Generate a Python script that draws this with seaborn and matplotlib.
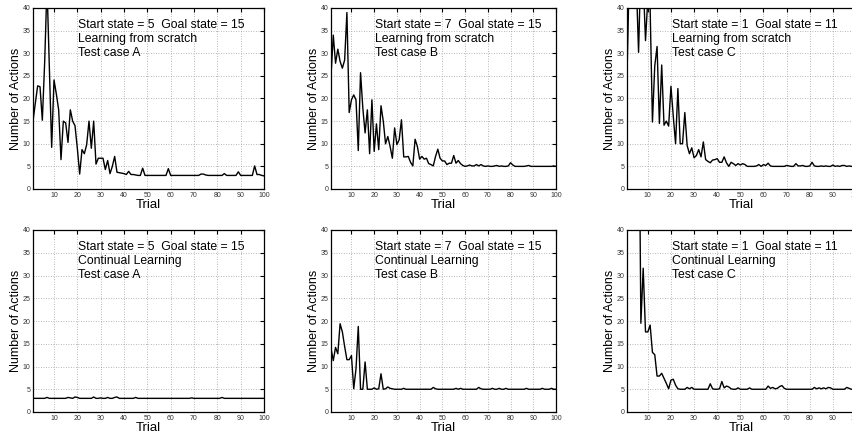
import matplotlib
matplotlib.use("Agg")
import matplotlib.pyplot as plt
import pandas as pd
import seaborn as sns

sns.set_style("white")
plt.rcParams["font.family"] = ["Liberation Sans", "DejaVu Sans"]
plt.rcParams["text.color"] = "black"
plt.rcParams["axes.labelcolor"] = "black"

# Trial numbers
trials = list(range(1, 101))

# Number of actions per trial, learning from scratch
scratch_a = [
    15, 19, 22.8, 22.6, 15.2, 28, 45, 27, 9.2, 24.1,
    21, 17.5, 6.5, 15, 14.6, 10.3, 17.5, 15, 14, 9,
    3.3, 8.7, 7.8, 9.8, 15, 9, 15, 5.5, 6.8, 6.8,
    6.8, 4.3, 6.3, 3.4, 5, 7.2, 3.7, 3.6, 3.5, 3.4,
    3.2, 3.9, 3.2, 3.2, 3.1, 3, 3, 4.6, 3, 3,
    3, 3, 3, 3, 3, 3, 3, 3, 4.5, 3,
    3, 3, 3, 3, 3, 3, 3, 3, 3, 3,
    3, 3, 3.3, 3.3, 3.1, 3, 3, 3, 3, 3,
    3, 3, 3.4, 3, 3, 3, 3, 3, 3.8, 3,
    3, 3, 3, 3, 3, 5.1, 3.2, 3.2, 3, 2.9,
]
scratch_b = [
    25, 34, 27.8, 30.9, 28.2, 26.7, 28.5, 39, 16.9, 19.7,
    20.8, 19.7, 8.5, 25.7, 17.9, 12.4, 17.5, 7.8, 19.7, 8.3,
    14.4, 8.7, 18.4, 15, 10, 11.6, 9.4, 6.8, 13.5, 9.8,
    10.9, 15.3, 7.1, 7.1, 7.2, 5.9, 5.1, 11, 9.4, 6.6,
    7.2, 6.6, 6.8, 5.6, 5.4, 5.1, 7.2, 8.8, 6.8, 6.2,
    6.2, 5.4, 5.7, 5.7, 7.4, 5.7, 6.3, 5.6, 5.2, 5,
    5.1, 5.3, 5.1, 5.1, 5.4, 5.1, 5.4, 5.1, 5, 5.1,
    5, 5, 5.1, 5.2, 5, 5.1, 5, 5, 5.1, 5.8,
    5.3, 5, 5, 5, 5, 5, 5.1, 5.2, 5, 5,
    5, 5, 5, 5, 5, 5, 5, 5, 5.1, 5,
]
scratch_c = [
    25, 48, 55, 50, 46, 30.2, 50, 46, 32.8, 42,
    40, 14.8, 27.2, 31.5, 14.5, 27.4, 14.1, 15, 13.9, 22.7,
    16.1, 10, 22.2, 10, 10, 16.9, 9.6, 7.8, 9.1, 6.9,
    7.4, 8.7, 7.1, 10.4, 6.5, 6.1, 5.8, 6.4, 6.5, 6.7,
    5.9, 5.9, 7.1, 5.8, 5, 5.9, 5.6, 5.2, 5.6, 5.3,
    5.6, 5.4, 5, 5, 5, 5, 5.1, 5.4, 5, 5.4,
    5.2, 5.7, 5.1, 5, 5, 5, 5, 5, 5, 5.2,
    5.1, 5, 5, 5.6, 5.1, 5.1, 5.2, 5, 5, 5.1,
    5.9, 5.1, 5, 5, 5.1, 5, 5.1, 5, 5, 5.3,
    5, 5.1, 5, 5.2, 5.2, 5, 5.1, 5, 5, 5,
]

# Number of actions per trial, continual learning
continual_a = [
    3, 3, 3, 3, 3, 3, 3.2, 3, 3, 3,
    3, 3, 3, 3, 3, 3.2, 3.1, 3, 3.3, 3.2,
    3, 3, 3, 3, 3, 3, 3.3, 3, 3, 3.1,
    3, 3, 3.2, 3, 3, 3.2, 3.3, 3, 3, 3,
    3, 3, 3, 3, 3.2, 3, 3, 3, 3, 3,
    3, 3, 3, 3, 3, 3, 3, 3, 3, 3,
    3, 3, 3, 3, 3, 3, 3, 3, 3.1, 3,
    3, 3, 3, 3, 3, 3, 3, 3, 3, 3,
    3, 3.2, 3, 3, 3, 3, 3, 3, 3, 3,
    3, 3, 3, 3, 3, 3, 3, 3, 3, 3,
]
continual_b = [
    14, 11.3, 14.2, 12.8, 19.4, 17.6, 14.4, 11.5, 11.5, 12.4,
    5.1, 9.5, 18.8, 5, 5, 11, 5, 5, 5, 5.3,
    5, 5.1, 8.4, 5, 5.1, 5.5, 5.2, 5.1, 5, 5,
    5, 5, 5.2, 5, 5, 5, 5, 5, 5, 5,
    5, 5, 5, 5, 5, 5.4, 5.1, 5, 5, 5,
    5, 5, 5, 5, 5, 5.2, 5, 5.2, 5, 5,
    5, 5, 5, 5, 5, 5.4, 5.1, 5, 5, 5,
    5, 5.2, 5, 5, 5.2, 5, 5, 5.2, 5, 5,
    5, 5, 5, 5, 5, 5, 5.2, 5, 5, 5,
    5, 5, 5, 5.2, 5, 5, 5, 5.2, 5, 5,
]
continual_c = [
    50, 55, 48, 52, 46, 80, 19.5, 31.6, 17.6, 17.6,
    19.1, 13.1, 12.6, 7.9, 7.9, 8.5, 7.4, 6.3, 5.1, 7,
    7.2, 5.9, 5.1, 5, 5, 5, 5.4, 5.1, 5.4, 5,
    5, 5, 5, 5, 5, 5, 6.2, 5.1, 5, 5,
    5.1, 6.7, 5.3, 5.7, 5.5, 5.1, 5, 5, 5.3, 5,
    5, 5, 5, 5.3, 5, 5, 5, 5, 5, 5,
    5, 5.7, 5.2, 5.4, 5.1, 5.2, 5.6, 5.8, 5.2, 5,
    5, 5, 5, 5, 5, 5, 5, 5, 5, 5,
    5, 5.4, 5.1, 5.3, 5.1, 5.3, 5.1, 5.4, 5.3, 5,
    5, 5, 5, 5, 5, 5.4, 5.2, 5, 5, 5,
]

panels = [
    (scratch_a, "Start state = 5  Goal state = 15", "Learning from scratch", "Test case A"),
    (scratch_b, "Start state = 7  Goal state = 15", "Learning from scratch", "Test case B"),
    (scratch_c, "Start state = 1  Goal state = 11", "Learning from scratch", "Test case C"),
    (continual_a, "Start state = 5  Goal state = 15", "Continual Learning", "Test case A"),
    (continual_b, "Start state = 7  Goal state = 15", "Continual Learning", "Test case B"),
    (continual_c, "Start state = 1  Goal state = 11", "Continual Learning", "Test case C"),
]

W, H = 852, 433
# axes boxes in pixels (left, top, right, bottom)
boxes = [
    (33, 8, 264, 189), (331, 8, 556, 189), (627, 8, 856, 189),
    (33, 230, 264, 412), (331, 230, 556, 412), (627, 230, 856, 412),
]

fig = plt.figure(figsize=(W / 100, H / 100), dpi=100)

for (vals, l1, l2, l3), (x0, y0, x1, y1) in zip(panels, boxes):
    ax = fig.add_axes([x0 / W, 1 - y1 / H, (x1 - x0) / W, (y1 - y0) / H])
    df = pd.DataFrame({"trial": trials, "actions": vals})
    sns.lineplot(data=df, x="trial", y="actions", ax=ax, color="black", linewidth=1.0)
    ax.set_xlim(1, 100)
    ax.set_ylim(0, 40)
    ax.set_xticks(range(10, 101, 10))
    ax.set_yticks(range(0, 41, 5))
    ax.grid(True, linestyle=(0, (1, 2)), color="#a0a0a0", linewidth=0.6)
    ax.tick_params(direction="in", length=3, labelsize=5, pad=2,
                   top=True, right=True, colors="black", labelcolor="#333333")
    for sp in ax.spines.values():
        sp.set_color("black")
        sp.set_linewidth(0.9)
    ax.set_xlabel("Trial", fontsize=9.5, labelpad=0)
    ax.set_ylabel("Number of Actions", fontsize=9, labelpad=0)
    ax.text(0.195, 0.94, l1 + "\n" + l2 + "\n" + l3, transform=ax.transAxes,
            va="top", ha="left", fontsize=8.8, linespacing=1.22, color="black")

fig.savefig("out.png", dpi=100)
